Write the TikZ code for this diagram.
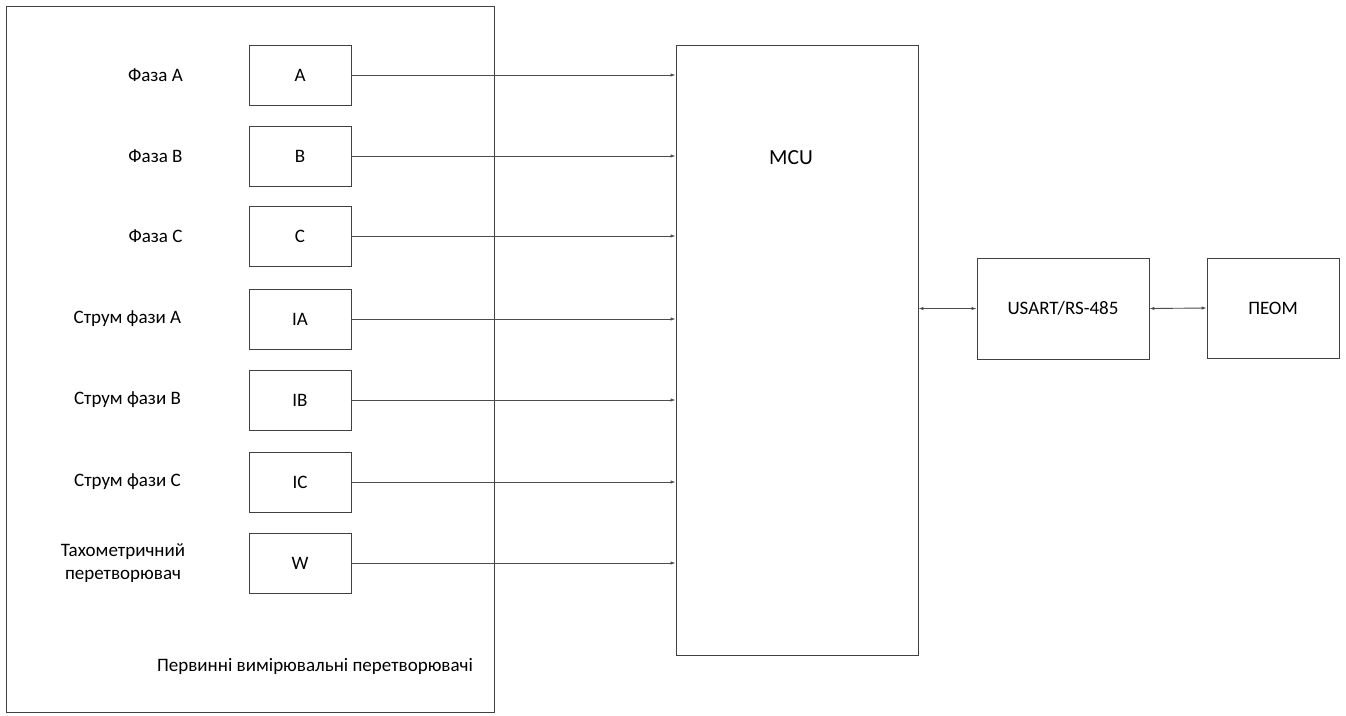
\documentclass[tikz,border=0pt]{standalone}
\usepackage{fontspec}
\setmainfont{Carlito}
\usetikzlibrary{arrows.meta}
\begin{document}
\begin{tikzpicture}[x=1pt,y=-1pt,
  box/.style={draw=black!75,line width=0.9pt,inner sep=0pt,font=\fontsize{19}{23}\selectfont},
  lbl/.style={font=\fontsize{19}{23}\selectfont,align=center,inner sep=0pt},
  conn/.style={draw=black!70,line width=0.9pt,-{Latex[length=5pt,width=3.5pt]}},
  dconn/.style={draw=black!70,line width=0.9pt,{Latex[length=5pt,width=3.5pt]}-{Latex[length=5pt,width=3.5pt]}}]
\useasboundingbox (0,0) rectangle (1346,715);
\node[box,minimum width=488pt,minimum height=706pt] (outer) at (250,359) {};
\node[box,minimum width=242pt,minimum height=610pt] (mcu) at (797,350) {};
\node[lbl,font=\fontsize{21.5}{25}\selectfont] (mcut) at (791,158) {MCU};
\node[box,minimum width=172pt,minimum height=101pt] (usart) at (1063,308.5) {USART/RS-485};
\node[box,minimum width=132pt,minimum height=100pt] (peom) at (1273,308) {ПЕОМ};
\foreach \n/\t/\y/\x/\l in {a/A/75/155.5/Фаза А, b/B/156/155.5/Фаза В, c/C/236/155.5/Фаза С, ia/IA/319/127.5/Струм фази А, ib/IB/400/127.5/Струм фази В, ic/IC/482/127.5/Струм фази С}{
  \node[box,minimum width=102pt,minimum height=60pt] (\n) at (300,\y) {\t};
  \node[lbl] (l\n) at (\x,\y) {\l};
  \draw[conn] (\n.east) -- (\n.east -| mcu.west);
}
\node[box,minimum width=102pt,minimum height=60pt] (w) at (300,563) {W};
\node[lbl] (lw) at (123,563) {Тахометричний\\перетворювач};
\draw[conn] (w.east) -- (w.east -| mcu.west);
\node[lbl] (ltitle) at (315,666) {Первинні вимірювальні перетворювачі};
\draw[dconn] (mcu.east |- usart.west) -- (usart.west);
\draw[dconn] (usart.east) -- (peom.west);
\end{tikzpicture}
\end{document}
